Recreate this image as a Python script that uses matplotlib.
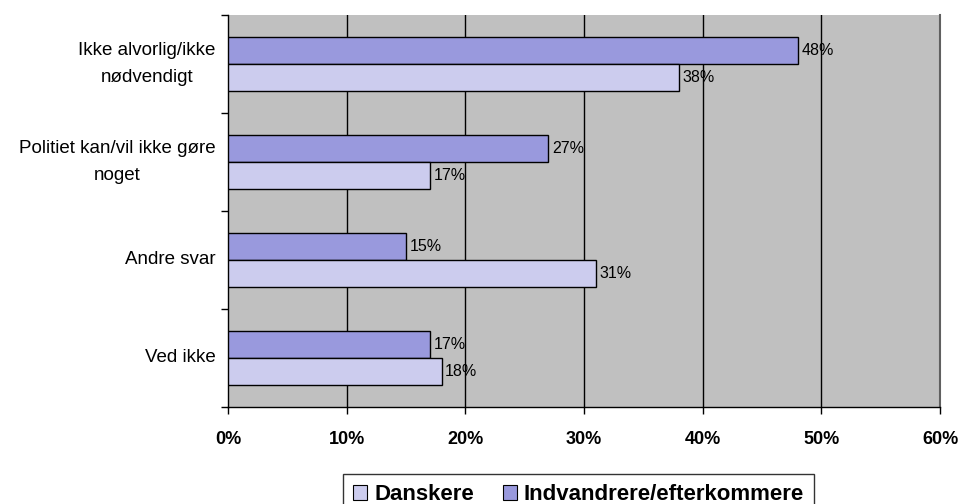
import matplotlib.pyplot as plt
import numpy as np
from matplotlib.patches import Patch

plt.rcParams['font.family'] = ['Liberation Sans', 'DejaVu Sans']

categories = ['Ikke alvorlig/ikke\nnødvendigt', 'Politiet kan/vil ikke gøre\nnoget', 'Andre svar', 'Ved ikke']
indvandrere = [48, 27, 15, 17]
danskere = [38, 17, 31, 18]
x_ticks = [0, 10, 20, 30, 40, 50, 60]

c_dansk = '#CCCCEE'
c_indv = '#9999DD'

fig = plt.figure(figsize=(9.63, 5.04), dpi=100)
# plot area in pixels: x 228..940, y 15..407
ax = fig.add_axes([228 / 963, (504 - 407) / 504, 712 / 963, 392 / 504])
ax.set_facecolor('#C0C0C0')

centers = np.arange(len(categories)) + 0.5
h = 0.28
ax.barh(centers - h / 2, indvandrere, height=h, color=c_indv, edgecolor='black', linewidth=1, zorder=3)
ax.barh(centers + h / 2, danskere, height=h, color=c_dansk, edgecolor='black', linewidth=1, zorder=3)

for c, v in zip(centers, indvandrere):
    ax.text(v + 0.3, c - h / 2, f'{v}%', va='center', ha='left', fontsize=11.5, zorder=4)
for c, v in zip(centers, danskere):
    ax.text(v + 0.3, c + h / 2, f'{v}%', va='center', ha='left', fontsize=11.5, zorder=4)

ax.set_xlim(0, 60)
ax.set_ylim(len(categories), 0)
ax.set_xticks(x_ticks)
ax.set_xticklabels([f'{t}%' for t in x_ticks], fontweight='bold', fontsize=13)
ax.tick_params(axis='x', length=5, width=1, pad=12)
ax.set_yticks(np.arange(len(categories) + 1))
ax.set_yticklabels([])
ax.set_yticks(centers, minor=True)
ax.set_yticklabels(categories, minor=True, fontsize=13.5, ma='center', va='center', linespacing=1.75)
ax.tick_params(axis='y', which='major', length=5, width=1)
ax.tick_params(axis='y', which='minor', length=0, pad=9)

for t in x_ticks[1:-1]:
    ax.axvline(t, color='black', linewidth=1, zorder=1)

ax.spines['top'].set_visible(False)
ax.spines['right'].set_color('#606060')
ax.spines['right'].set_linewidth(1.5)
ax.spines['left'].set_linewidth(1)
ax.spines['bottom'].set_linewidth(1)

handles = [Patch(facecolor=c_dansk, edgecolor='black', linewidth=0.8),
           Patch(facecolor=c_indv, edgecolor='black', linewidth=0.8)]
leg = fig.legend(handles, ['Danskere', 'Indvandrere/efterkommere'], loc='upper left',
                 bbox_to_anchor=(343 / 963, (504 - 474) / 504), ncol=2, frameon=True,
                 fancybox=False, edgecolor='black', prop={'weight': 'bold', 'size': 16},
                 handlelength=0.65, handleheight=0.65, handletextpad=0.3, columnspacing=1.3,
                 borderpad=0.45, borderaxespad=0)
leg.get_frame().set_linewidth(1)

fig.savefig('out.png', dpi=100)
